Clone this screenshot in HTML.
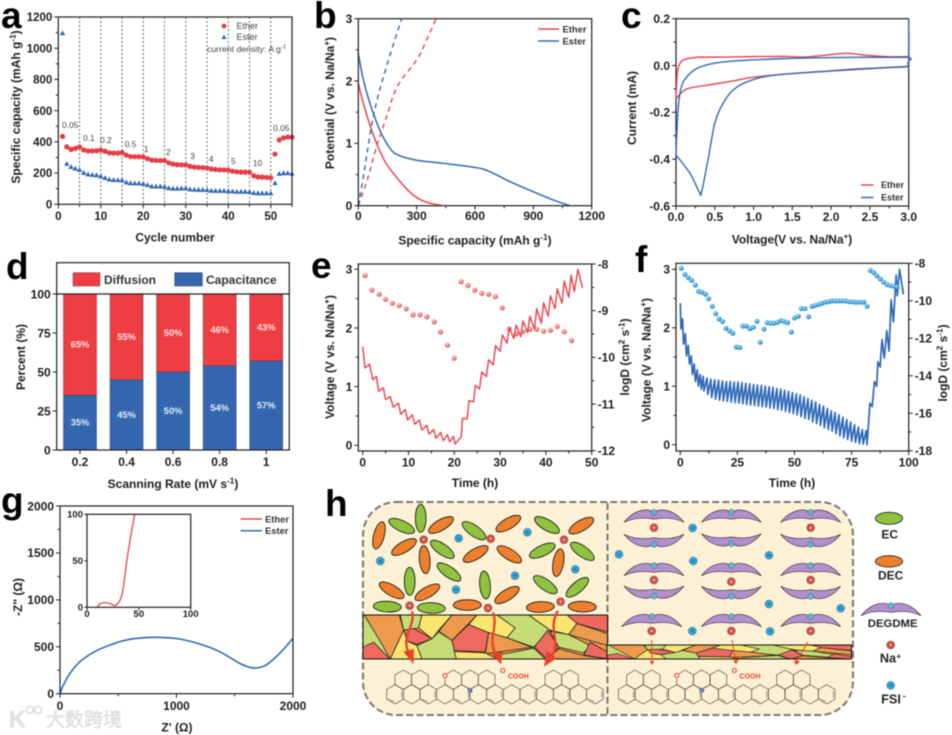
<!DOCTYPE html>
<html lang="en">
<head>
<meta charset="utf-8">
<title>Electrochemical performance figure</title>
<style>
html,body{margin:0;padding:0;background:#fff;}
#figure{display:block;width:952px;height:735px;filter:blur(0.4px);font-family:"Liberation Sans","Noto Sans CJK SC",sans-serif;}
</style>
</head>
<body>
<svg id="figure" xmlns="http://www.w3.org/2000/svg" width="952" height="735" viewBox="0 0 952 735">
  <defs>
    <radialGradient id="pinkBall" cx="40%" cy="35%" r="70%"><stop offset="0" stop-color="#fbd3d3"/><stop offset="0.55" stop-color="#ee7a7c"/><stop offset="1" stop-color="#d9595c"/></radialGradient>
    <radialGradient id="blueBall" cx="40%" cy="35%" r="70%"><stop offset="0" stop-color="#b9e3f7"/><stop offset="0.55" stop-color="#3fa2da"/><stop offset="1" stop-color="#2a7fb8"/></radialGradient>
  </defs>
  <rect width="952" height="735" fill="#fff"/>
  <g id="charts"></g>
  <g id="schematic"></g>
  <g font-weight="bold" font-size="37" fill="#000">
    <text x="1" y="28">a</text>
    <text x="314" y="28">b</text>
    <text x="621" y="28">c</text>
    <text x="6" y="279">d</text>
    <text x="311" y="278">e</text>
    <text x="635" y="272">f</text>
    <text x="1" y="513">g</text>
    <text x="325" y="516">h</text>
  </g>
  <g opacity="0.9">
    <text x="9" y="727" font-size="23" font-weight="bold" fill="#e2e2e2" stroke="#cfcfcf" stroke-width="0.5">K</text>
    <circle cx="30" cy="710" r="3.5" fill="none" stroke="#d8d8d8" stroke-width="1.6"/>
    <circle cx="38" cy="710" r="3.5" fill="none" stroke="#d8d8d8" stroke-width="1.6"/>
    <text x="46" y="726" font-size="19" font-family="'Liberation Sans','Noto Sans CJK SC',sans-serif" fill="#e4e4e4" stroke="#cfcfcf" stroke-width="0.4">大数跨境</text>
  </g>
</svg>

<script>
/* ---------- chart data ---------- */
const aCycles=[1,2,3,4,5,6,7,8,9,10,11,12,13,14,15,16,17,18,19,20,21,22,23,24,25,26,27,28,29,30,31,32,33,34,35,36,37,38,39,40,41,42,43,44,45,46,47,48,49,50,51,52,53,54,55];
const aEther=[435,368,352,358,367,348,342,342,343,347,340,330,328,328,332,315,306,305,305,303,292,283,281,280,280,265,258,254,253,252,243,238,236,235,233,226,223,221,220,219,212,208,206,206,205,183,175,174,172,170,322,412,425,431,430];
const aEster=[1097,260,240,230,222,203,193,190,187,180,170,160,157,156,155,142,136,135,135,133,125,116,115,115,114,105,102,102,103,104,97,95,94,94,93,88,87,87,87,86,84,82,82,82,81,74,72,72,72,71,137,197,200,201,198];
const aDividers=[5,10,15,20,25,30,35,40,45,50];
const aRates=[["0.05",2.8,490],["0.1",7.2,406],["0.2",11.2,393],["0.5",17,368],["1",20.7,336],["2",25.9,316],["3",31.6,291],["4",36,272],["5",41.2,258],["10",46.9,246],["0.05",52.5,470]];
const aXTicks=[0,10,20,30,40,50];
const aXMinor=[5,15,25,35,45,55];
const aYTicks=[0,200,400,600,800,1000,1200];
const aYMinor=[100,300,500,700,900,1100];

const bEtherDischarge=[[0,1.96],[26,1.64],[60,1.29],[94,1.0],[137,0.71],[180,0.52],[231,0.33],[283,0.17],[343,0.064],[429,0]];
const bEsterDischarge=[[0,2.44],[26,2.02],[60,1.64],[111,1.21],[163,0.92],[206,0.81],[300,0.73],[437,0.68],[609,0.61],[677,0.545],[780,0.385],[900,0.225],[1003,0.09],[1089,0]];
const bEtherCharge=[[0,0],[51,0.465],[94,0.95],[146,1.43],[200,1.91],[300,2.34],[343,2.6],[400,3]];
const bEsterCharge=[[0,0],[26,0.465],[77,1.43],[137,2.15],[223,3]];
const bXTicks=[0,300,600,900,1200];
const bXMinor=[150,450,750,1050];
const bYTicks=[0,1,2,3];
const bYMinor=[0.5,1.5,2.5];

const cEther=[[0,-0.14],[0.017,-0.033],[0.05,0.009],[0.116,0.026],[0.27,0.035],[0.57,0.036],[1.0,0.038],[1.43,0.039],[1.64,0.036],[1.86,0.042],[2.2,0.052],[2.42,0.045],[2.72,0.038],[2.97,0.038],[3,0.04],[2.99,0.008],[2.97,-0.005],[2.72,-0.009],[2.29,-0.015],[1.86,-0.026],[1.43,-0.036],[1.0,-0.05],[0.78,-0.063],[0.48,-0.08],[0.14,-0.10],[0,-0.143]];
const cEster=[[0,-0.382],[0.01,-0.29],[0.03,-0.175],[0.07,-0.09],[0.14,-0.048],[0.27,-0.012],[0.48,0.009],[0.74,0.019],[1.43,0.03],[2.29,0.035],[2.97,0.035],[3,0.036],[3,0.2],[3,-0.001],[2.97,-0.004],[2.72,-0.009],[2.07,-0.022],[1.43,-0.036],[1.08,-0.052],[0.78,-0.093],[0.61,-0.16],[0.5,-0.247],[0.42,-0.39],[0.33,-0.54],[0.30,-0.54],[0.18,-0.46],[0,-0.382]];
const cXTicks=[0,0.5,1,1.5,2,2.5,3];
const cXLabels=["0.0","0.5","1.0","1.5","2.0","2.5","3.0"];
const cXMinor=[0.25,0.75,1.25,1.75,2.25,2.75];
const cYTicks=[-0.6,-0.4,-0.2,0,0.2];
const cYLabels=["-0.6","-0.4","-0.2","0.0","0.2"];
const cYMinor=[-0.5,-0.3,-0.1,0.1];

const dRates=["0.2","0.4","0.6","0.8","1"];
const dCapacitance=[35,45,50,54,57];
const dDiffusion=[65,55,50,46,43];
const dYTicks=[0,25,50,75,100];

const eVoltage=[[0,1.68],[0.5,1.32],[1.5,1.38],[2.2,1.12],[3,1.17],[3.5,0.92],[4.5,0.98],[5,0.78],[6,0.83],[6.7,0.65],[7.8,0.72],[8.3,0.53],[9.3,0.61],[9.8,0.43],[10.8,0.52],[11.4,0.36],[12.4,0.43],[12.9,0.26],[14,0.34],[14.5,0.19],[15.5,0.27],[16,0.12],[17,0.22],[17.6,0.08],[18.5,0.18],[19,0.06],[19.8,0.15],[20.2,0.02],[21,0.1],[21.5,0.14],[21.8,0.46],[22.8,0.45],[23.2,0.76],[24.2,0.74],[24.6,1.02],[25.5,0.96],[26,1.25],[27,1.17],[27.5,1.46],[28.5,1.37],[29,1.7],[30,1.6],[30.5,1.88],[31.5,1.74],[32,2.0],[33,1.82],[33.5,2.05],[34.5,1.85],[35,2.12],[36,1.92],[36.5,2.2],[37.5,1.98],[38,2.33],[39,2.08],[39.5,2.43],[40.5,2.2],[41,2.55],[42,2.33],[42.5,2.67],[43.5,2.42],[44,2.8],[45,2.52],[45.5,2.9],[46.2,2.62],[47,3.0],[48,2.68]];
const eLogD=[[0.5,-8.25],[2,-8.56],[3.6,-8.65],[5,-8.76],[6.5,-8.84],[8,-8.89],[9.5,-8.96],[11,-9.09],[12.5,-9.09],[14,-9.13],[15.6,-9.24],[17,-9.46],[18.5,-9.74],[20,-10.02],[21.5,-8.38],[23,-8.46],[24.5,-8.56],[26,-8.63],[27.5,-8.65],[29,-8.7],[30.5,-8.94],[32,-9.39],[33.5,-9.5],[35,-9.45],[36.5,-9.4],[38,-9.4],[39.5,-9.44],[41,-9.42],[42.5,-9.34],[44,-9.45],[45.6,-9.64]];
const eXTicks=[0,10,20,30,40,50];
const eXMinor=[5,15,25,35,45];
const eYTicks=[0,1,2,3];
const eYMinor=[0.5,1.5,2.5];
const eY2Ticks=[-12,-11,-10,-9,-8];
const eY2Minor=[-11.5,-10.5,-9.5,-8.5];

const fVoltage=[[0,2.42],[0.3,1.98],[1,2.15],[1.4,1.72],[2.2,1.9],[2.7,1.52],[3.5,1.7],[4,1.38],[4.8,1.52],[5.3,1.2],[6.1,1.38],[6.6,1.08],[7.4,1.28],[7.9,1.0],[8.7,1.2],[9.2,0.95],[10,1.17],[10.35,0.92],[11.7,1.14],[12.05,0.86],[13.4,1.12],[13.75,0.81],[15.1,1.11],[15.45,0.78],[16.8,1.10],[17.15,0.76],[18.5,1.09],[18.85,0.75],[20.2,1.08],[20.55,0.74],[21.9,1.08],[22.25,0.73],[23.6,1.07],[23.95,0.72],[25.3,1.07],[25.65,0.71],[27,1.06],[27.35,0.70],[28.7,1.05],[29.05,0.69],[30.4,1.04],[30.75,0.68],[32.1,1.03],[32.45,0.67],[33.8,1.02],[34.15,0.66],[35.5,1.01],[35.85,0.65],[37.2,1.0],[37.55,0.64],[38.9,0.99],[39.25,0.63],[40.6,0.98],[40.95,0.62],[42.3,0.96],[42.65,0.60],[44,0.95],[44.35,0.59],[45.7,0.93],[46.05,0.57],[47.4,0.91],[47.75,0.55],[49.1,0.89],[49.45,0.53],[50.8,0.87],[51.15,0.51],[52.5,0.85],[52.85,0.48],[54.2,0.82],[54.55,0.45],[55.9,0.79],[56.25,0.43],[57.6,0.76],[57.95,0.39],[59.3,0.73],[59.65,0.36],[61,0.69],[61.35,0.33],[62.7,0.66],[63.05,0.29],[64.4,0.62],[64.75,0.26],[66.1,0.58],[66.45,0.23],[67.8,0.55],[68.15,0.19],[69.5,0.51],[69.85,0.15],[71.2,0.47],[71.55,0.12],[72.9,0.43],[73.25,0.09],[74.6,0.39],[74.95,0.06],[76.3,0.34],[76.65,0.04],[78,0.3],[78.35,0.02],[79.7,0.26],[80.05,0.01],[81.4,0.24],[81.75,0],[82.2,0.24],[83,0.71],[84,0.65],[85,1.08],[86,1.0],[86.5,1.42],[87.5,1.33],[88.3,1.8],[89.3,1.48],[90.4,1.95],[91.4,1.6],[92.3,2.48],[93.3,2.1],[94.5,2.9],[95,2.55],[96,3.0],[97.7,2.57]];
const fLogD=[[0.4,-8.27],[2,-8.6],[3.5,-8.77],[5,-8.91],[6.6,-9.17],[8,-9.5],[9.5,-9.55],[11,-9.65],[12.4,-9.89],[14,-10.3],[15.5,-10.69],[17,-10.97],[18.5,-11.11],[20,-11.47],[21.6,-11.61],[23,-11.74],[24.5,-12.47],[26,-12.5],[27.4,-11.35],[29,-11.35],[30.5,-11.49],[32,-11.42],[33.6,-11.1],[35,-12.22],[36.6,-11.52],[38,-11.17],[39.6,-11.2],[41,-11.2],[42.6,-11.15],[44,-11.06],[45.5,-11.11],[47,-11.17],[48.6,-11.67],[50,-10.92],[51.7,-10.83],[53,-10.42],[54.6,-10.42],[56.2,-10.85],[57.7,-10.3],[59,-10.26],[60.6,-10.19],[62,-10.14],[63.5,-10.08],[65,-10.05],[66.4,-10.01],[68,-10.01],[69.3,-10.01],[70.8,-10.01],[72.3,-10.01],[73.7,-10.05],[75.2,-10.06],[76.6,-10.08],[78,-10.08],[79.6,-10.08],[80.4,-10.08],[81.8,-10.3],[83.2,-8.39],[84.7,-8.5],[86.1,-8.68],[87.6,-8.84],[89,-9.01],[90.5,-9.14],[92,-9.19],[93.4,-9.23],[94.9,-9.26]];
const fXTicks=[0,25,50,75,100];
const fXMinor=[12.5,37.5,62.5,87.5];
const fYTicks=[0,1,2,3];
const fYMinor=[0.5,1.5,2.5];
const fY2Ticks=[-18,-16,-14,-12,-10,-8];
const fY2Minor=[-17,-15,-13,-11,-9];

const gEster=[[0,0],[29,92],[86,217],[171,341],[286,440],[400,505],[543,565],[686,593],[857,600],[1029,583],[1200,529],[1371,448],[1543,323],[1629,281],[1686,274],[1771,306],[1886,430],[2000,590]];
const gEther=[[10,0],[12.5,3.6],[17.4,5],[22,4],[27,2],[31,6],[34,15],[36,29],[38,47],[41.5,72],[46,100]];
const gXTicks=[0,1000,2000];
const gXMinor=[500,1500];
const gYTicks=[0,500,1000,1500,2000];
const gYMinor=[250,750,1250,1750];
const gInsetXTicks=[0,50,100];
const gInsetYTicks=[0,50,100];

/* ---------- helpers ---------- */
const NS='http://www.w3.org/2000/svg';
const chartRoot=document.getElementById('charts');
const INK='#1e1e1e',RED='#e8434b',BLUE='#2f69b3';
function mk(tag,attrs,parent){
  const e=document.createElementNS(NS,tag);
  for(const k in attrs)e.setAttribute(k,attrs[k]);
  (parent||chartRoot).appendChild(e);
  return e;
}
function scale(d0,d1,r0,r1){return v=>r0+(v-d0)*(r1-r0)/(d1-d0);}
function label(str,x,y,size,name,opt){
  opt=opt||{};
  const t=mk('text',{x:x,y:y,'font-size':size,'font-weight':opt.weight||'bold','fill':opt.fill||INK,'text-anchor':opt.anchor||'middle'},opt.parent);
  
  
  if(opt.rotate)t.setAttribute('transform','rotate('+opt.rotate+' '+x+' '+y+')');
  const parts=str.split(/(\^\{[^}]*\})/);
  let lifted=false;
  parts.forEach(p=>{
    if(!p)return;
    const ts=mk('tspan',{},t);
    if(p[0]==='^'){
      ts.textContent=p.slice(2,-1);
      ts.setAttribute('font-size',size*0.68);
      ts.setAttribute('dy',-size*0.38);
      lifted=true;
    }else{
      ts.textContent=p;
      if(lifted){ts.setAttribute('dy',size*0.38);lifted=false;}
    }
  });
  return t;
}
function tick(x1,y1,x2,y2,name,parent){
  const l=mk('line',{x1:x1,y1:y1,x2:x2,y2:y2,stroke:INK,'stroke-width':1},parent);
  
  
}
function frame(name,x0,y0,x1,y1,parent){
  const r=mk('rect',{x:x0,y:y0,width:x1-x0,height:y1-y0,fill:'none',stroke:INK,'stroke-width':1.2},parent);
  
  
}
function xAxis(name,sx,yBase,ticks,minor,labels,size,labelY){
  ticks.forEach((v,i)=>{
    tick(sx(v),yBase,sx(v),yBase+4,name+'-x-tick');
    label(labels?labels[i]:String(v),sx(v),labelY,size,name+'-x-tick-label');
  });
  (minor||[]).forEach(v=>tick(sx(v),yBase,sx(v),yBase+2.5,name+'-x-minor-tick'));
}
function yAxis(name,sy,xBase,ticks,minor,labels,size,side){
  const dir=side==='right'?1:-1;
  ticks.forEach((v,i)=>{
    tick(xBase,sy(v),xBase+dir*4,sy(v),name+'-y-tick');
    label(labels?labels[i]:String(v),xBase+dir*6,sy(v)+size*0.36,size,name+'-y-tick-label',{anchor:side==='right'?'start':'end'});
  });
  (minor||[]).forEach(v=>tick(xBase,sy(v),xBase+dir*2.5,sy(v),name+'-y-minor-tick'));
}
function straightPath(pts,sx,sy){
  return pts.map((p,i)=>(i?'L':'M')+sx(p[0]).toFixed(2)+' '+sy(p[1]).toFixed(2)).join(' ');
}
function smoothPath(pts,sx,sy){
  const q=pts.map(p=>[sx(p[0]),sy(p[1])]);
  let d='M'+q[0][0].toFixed(2)+' '+q[0][1].toFixed(2);
  for(let i=0;i<q.length-1;i++){
    const p0=q[Math.max(i-1,0)],p1=q[i],p2=q[i+1],p3=q[Math.min(i+2,q.length-1)];
    const c1x=p1[0]+(p2[0]-p0[0])/6,c1y=p1[1]+(p2[1]-p0[1])/6;
    const c2x=p2[0]-(p3[0]-p1[0])/6,c2y=p2[1]-(p3[1]-p1[1])/6;
    d+=' C'+c1x.toFixed(2)+' '+c1y.toFixed(2)+' '+c2x.toFixed(2)+' '+c2y.toFixed(2)+' '+p2[0].toFixed(2)+' '+p2[1].toFixed(2);
  }
  return d;
}
function curve(d,color,width,name,dash,parent){
  const p=mk('path',{d:d,fill:'none',stroke:color,'stroke-width':width,'stroke-linejoin':'round'},parent);
  if(dash)p.setAttribute('stroke-dasharray',dash);
  
  
}
function legendLine(x1,x2,y,color,text,tx,size,name){
  const l=mk('line',{x1:x1,x2:x2,y1:y,y2:y,stroke:color,'stroke-width':1.5});
  
  
  label(text,tx,y+size*0.36,size,name+'-legend-label',{anchor:'start',fill:'#333'});
}

/* ---------- panel a ---------- */
(function(){
  const sx=scale(0,55,58.3,292),sy=scale(0,1200,204.3,17);
  aDividers.forEach(v=>{
    const l=mk('line',{x1:sx(v),x2:sx(v),y1:17,y2:204,stroke:'#444','stroke-width':0.8,'stroke-dasharray':'2 2'});
    
    
  });
  aRates.forEach(r=>{
    label(r[0],sx(r[1]),sy(r[2]),8.4,'current-density-label',{weight:'normal',fill:'#444'});
  });
  aCycles.forEach((c,i)=>{
    const px=sx(c),py=sy(aEster[i]);
    const tri=mk('polygon',{points:(px-2.7)+','+(py+2.2)+' '+(px+2.7)+','+(py+2.2)+' '+px+','+(py-2.7),fill:BLUE});
    
    
  });
  aCycles.forEach((c,i)=>{
    const dot=mk('circle',{cx:sx(c),cy:sy(aEther[i]),r:2.6,fill:'#e63c44'});
    
    
  });
  frame('capacity-chart',58.3,17,292,204.3);
  xAxis('capacity-chart',sx,204.3,aXTicks,aXMinor,null,11.5,220);
  yAxis('capacity-chart',sy,58.3,aYTicks,aYMinor,null,11.5,'left');
  label('Cycle number',175,241.5,12,'capacity-x-axis-title');
  label('Specific capacity (mAh g^{-1})',20,107,12,'capacity-y-axis-title',{rotate:-90});
  const ld=mk('circle',{cx:224,cy:26,r:2.4,fill:'#e63c44'});
  
  
  const lt=mk('polygon',{points:'221.5,39 226.5,39 224,34.4',fill:BLUE});
  
  
  label('Ether',236.5,29,9,'ether-legend-label',{anchor:'start',weight:'normal',fill:'#444'});
  label('Ester',236.5,40,9,'ester-legend-label',{anchor:'start',weight:'normal',fill:'#444'});
  label('current density: A g^{-1}',207,52,8.7,'current-density-note',{anchor:'start',weight:'normal',fill:'#444'});
})();

/* ---------- panel b ---------- */
(function(){
  const sx=scale(0,1200,358.3,591.7),sy=scale(0,3,205.7,18.7);
  curve(smoothPath(bEtherDischarge,sx,sy),RED,1.5,'ether-discharge-curve');
  curve(smoothPath(bEsterDischarge,sx,sy),BLUE,1.5,'ester-discharge-curve');
  curve(smoothPath(bEtherCharge,sx,sy),RED,1.4,'ether-charge-curve','5 4');
  curve(smoothPath(bEsterCharge,sx,sy),BLUE,1.4,'ester-charge-curve','5 4');
  frame('potential-chart',358.3,18.7,591.7,205.7);
  xAxis('potential-chart',sx,205.7,bXTicks,bXMinor,null,12,220);
  yAxis('potential-chart',sy,358.3,bYTicks,bYMinor,null,12,'left');
  label('Specific capacity (mAh g^{-1})',475,244.5,12,'potential-x-axis-title');
  label('Potential (V vs. Na/Na^{+})',334,103,12,'potential-y-axis-title',{rotate:-90});
  legendLine(538,559,29,RED,'Ether',562.5,9.4,'potential-ether');
  legendLine(538,559,41,BLUE,'Ester',562.5,9.4,'potential-ester');
})();

/* ---------- panel c ---------- */
(function(){
  const sx=scale(0,3,676,908.7),sy=scale(-0.6,0.2,206,18.7);
  frame('cv-chart',676,18.7,908.7,206);
  curve(smoothPath(cEther,sx,sy),RED,1.4,'ether-cv-curve');
  curve(smoothPath(cEster,sx,sy),BLUE,1.4,'ester-cv-curve');
  xAxis('cv-chart',sx,206,cXTicks,cXMinor,cXLabels,12,221);
  yAxis('cv-chart',sy,676,cYTicks,cYMinor,cYLabels,12,'left');
  label('Voltage(V vs. Na/Na^{+})',792,243.5,12,'cv-x-axis-title');
  label('Current (mA)',636,108,12,'cv-y-axis-title',{rotate:-90});
  legendLine(861,873.5,185,RED,'Ether',881,9,'cv-ether');
  legendLine(861,873.5,197.5,BLUE,'Ester',881,9,'cv-ester');
})();

/* ---------- panel d ---------- */
(function(){
  const sy=scale(0,100,450,294);
  const sx=i=>80+i*46.55;
  const w=33;
  dRates.forEach((r,i)=>{
    const cx=sx(i);
    const top=mk('rect',{x:cx-w/2,y:sy(100),width:w,height:sy(dCapacitance[i])-sy(100),fill:'#ef3e42',stroke:'#6a2a36','stroke-width':0.5});
    
    
    const bot=mk('rect',{x:cx-w/2,y:sy(dCapacitance[i]),width:w,height:sy(0)-sy(dCapacitance[i]),fill:'#3566b0',stroke:'#2b3f66','stroke-width':0.5});
    
    
    label(dDiffusion[i]+'%',cx,sy(dCapacitance[i]+dDiffusion[i]/2)+3,9.3,'diffusion-percent-label',{fill:'#fbe3e3'});
    label(dCapacitance[i]+'%',cx,sy(dCapacitance[i]/2)+3,9.3,'capacitance-percent-label',{fill:'#e3ecf8'});
    tick(cx,450,cx,454,'percent-chart-x-tick');
    label(r,cx,466,12,'percent-chart-x-tick-label');
  });
  frame('percent-chart',56.7,262.7,289.3,450);
  const ax=mk('line',{x1:56.7,x2:289.3,y1:294,y2:294,stroke:INK,'stroke-width':1.2});
  
  
  yAxis('percent-chart',sy,56.7,dYTicks,null,null,12,'left');
  label('Scanning Rate (mV s^{-1})',173,488,12,'percent-x-axis-title');
  label('Percent (%)',25,357,12,'percent-y-axis-title',{rotate:-90});
  const l1=mk('rect',{x:73,y:272.7,width:27,height:13.3,fill:'#ef3e42',stroke:'#8a4a50','stroke-width':0.6});
  
  
  label('Diffusion',104,284,12,'diffusion-legend-label',{anchor:'start',fill:'#333'});
  const l2=mk('rect',{x:174.7,y:272.7,width:27.6,height:13.3,fill:'#3566b0',stroke:'#3a4c6e','stroke-width':0.6});
  
  
  label('Capacitance',206,284,12,'capacitance-legend-label',{anchor:'start',fill:'#333'});
})();

/* ---------- panel e ---------- */
(function(){
  const sx=scale(0,50,362.7,591.7),sy=scale(0,3,445.3,269.3),sy2=scale(-12,-8,450.7,264);
  eLogD.forEach(p=>{
    const c=mk('circle',{cx:sx(p[0]),cy:sy2(p[1]),r:2.6,fill:'url(#pinkBall)'});
    
    
  });
  curve(straightPath(eVoltage,sx,sy),'#e8404a',1.4,'ether-gitt-voltage-curve');
  frame('ether-gitt-chart',358.3,264,591.7,451);
  xAxis('ether-gitt-chart',sx,451,eXTicks,eXMinor,null,12,466.5);
  yAxis('ether-gitt-chart',sy,358.3,eYTicks,eYMinor,null,12,'left');
  yAxis('ether-gitt-logd',sy2,591.7,eY2Ticks,eY2Minor,null,12,'right');
  label('Time (h)',475,487,12,'ether-gitt-x-axis-title');
  label('Voltage (V vs. Na/Na^{+})',334,357,12,'ether-gitt-y-axis-title',{rotate:-90});
  label('logD (cm^{2} s^{-1})',629,357,12,'ether-gitt-right-axis-title',{rotate:-90});
})();

/* ---------- panel f ---------- */
(function(){
  const sx=scale(0,100,680.3,908.7),sy=scale(0,3,444.7,269.3),sy2=scale(-18,-8,450.7,263.3);
  curve(straightPath(fVoltage,sx,sy),'#2f69b8',1.7,'ester-gitt-voltage-curve');
  fLogD.forEach(p=>{
    const c=mk('circle',{cx:sx(p[0]),cy:sy2(p[1]),r:2.5,fill:'url(#blueBall)'});
    
    
  });
  frame('ester-gitt-chart',676,263.3,908.7,451);
  xAxis('ester-gitt-chart',sx,451,fXTicks,fXMinor,null,12,466.5);
  yAxis('ester-gitt-chart',sy,676,fYTicks,fYMinor,null,12,'left');
  yAxis('ester-gitt-logd',sy2,908.7,fY2Ticks,fY2Minor,null,12,'right');
  label('Time (h)',792,487,12,'ester-gitt-x-axis-title');
  label('Voltage (V vs. Na/Na^{+})',650.5,360,12,'ester-gitt-y-axis-title',{rotate:-90});
  label('logD (cm^{2} s^{-1})',947,363,12,'ester-gitt-right-axis-title',{rotate:-90});
})();

/* ---------- panel g ---------- */
(function(){
  const sx=scale(0,2000,60,293),sy=scale(0,2000,693.7,506);
  curve(smoothPath(gEster,sx,sy),BLUE,1.6,'ester-nyquist-curve');
  frame('nyquist-chart',60,506,293,693.7);
  xAxis('nyquist-chart',sx,693.7,gXTicks,gXMinor,null,12,710);
  yAxis('nyquist-chart',sy,60,gYTicks,gYMinor,null,12,'left');
  label("Z' (Ω)",177,731.5,12,'nyquist-x-axis-title');
  label("-Z'' (Ω)",22,597,12,'nyquist-y-axis-title',{rotate:-90});
  legendLine(240.7,262,519,RED,'Ether',265,9.4,'nyquist-ether');
  legendLine(240.7,262,530.7,BLUE,'Ester',265,9.4,'nyquist-ester');
  const ix=scale(0,100,87,190.7),iy=scale(0,100,607.3,514.3);
  curve(smoothPath(gEther,ix,iy),RED,1.3,'inset-ether-nyquist-curve');
  frame('nyquist-inset',87,514.3,190.7,607.3);
  gInsetXTicks.forEach(v=>{
    tick(ix(v),607.3,ix(v),610,'nyquist-inset-x-tick');
    label(String(v),ix(v),617,9.5,'nyquist-inset-x-tick-label');
  });
  gInsetYTicks.forEach(v=>{
    tick(87,iy(v),84.3,iy(v),'nyquist-inset-y-tick');
    label(String(v),83,iy(v)+3.4,9.5,'nyquist-inset-y-tick-label',{anchor:'end'});
  });
})();
</script>

<script>
/* ---------- schematic (panel h): not chart data, hand-placed drawing ---------- */
const schemaRoot=document.getElementById('schematic');
const S_NS='http://www.w3.org/2000/svg';
function sEl(tag,attrs,parent){
  const e=document.createElementNS(S_NS,tag);
  for(const k in attrs)e.setAttribute(k,attrs[k]);
  (parent||schemaRoot).appendChild(e);
  return e;
}
const cell=sEl('rect',{x:363,y:502,width:490,height:213,rx:33,fill:'#fdf1d5',stroke:'#777','stroke-width':2,'stroke-dasharray':'7 3.2'});


const divider=sEl('line',{x1:607.5,x2:607.5,y1:503,y2:714,stroke:'#777','stroke-width':2,'stroke-dasharray':'7 3.2'});



const OR='#ee7f2d',GR='#8fc23f',RD='#ee6a5f',OG='#ee9a4d',YL='#fae66f',LG='#c6dc74';
const seiPolys=[
 [LG,[[38,360],[148,360],[120,490],[38,490]]],
 [OG,[[42,360],[147,360],[160,405],[120,490],[85,430]]],
 [RD,[[38,455],[70,440],[118,490],[38,490]]],
 [LG,[[150,360],[215,360],[205,398],[185,402],[160,405]]],
 [RD,[[160,405],[190,400],[245,430],[200,447],[170,437]]],
 [YL,[[170,437],[200,450],[215,490],[120,490],[160,405]]],
 [YL,[[215,360],[305,360],[265,405],[245,430],[205,398]]],
 [LG,[[200,450],[245,430],[265,410],[305,435],[318,490],[215,490]]],
 [OG,[[305,360],[380,360],[355,385],[305,435],[265,408]]],
 [RD,[[355,388],[415,412],[405,470],[312,465],[305,435]]],
 [YL,[[380,360],[440,360],[495,398],[470,427],[415,412],[355,388]]],
 [OG,[[415,412],[470,427],[545,455],[405,475]]],
 [LG,[[440,360],[535,360],[600,405],[550,455],[470,427],[495,398]]],
 [YL,[[312,468],[405,472],[440,490],[318,490]]],
 [LG,[[445,478],[550,458],[585,490],[440,490]]],
 [YL,[[535,360],[650,360],[680,385],[655,418],[600,405]]],
 [RD,[[650,360],[772,360],[772,410],[680,385]]],
 [OG,[[680,385],[772,415],[772,450],[655,418]]],
 [LG,[[600,408],[655,418],[720,450],[700,472],[625,455]]],
 [RD,[[592,405],[625,455],[590,490],[552,455]]],
 [RD,[[720,440],[772,470],[772,490],[700,478]]],
 [OG,[[590,490],[625,460],[700,480],[772,490]]]
];
function drawLayer(name,y0,y1,sw){
  const fx=x=>(x-38)/3,fy=y=>y0+(y-360)*(y1-y0)/130;
  [363,607].forEach(ox=>{
    if(name==='thick'&&ox!==363)return;
    if(name==='thin'&&ox!==607)return;
    const base=sEl('rect',{x:ox,y:y0,width:244.5,height:y1-y0,fill:OG});
    
    
    seiPolys.forEach(p=>{
      const poly=sEl('polygon',{points:p[1].map(q=>(ox+fx(q[0])).toFixed(1)+','+fy(q[1]).toFixed(1)).join(' '),fill:p[0],stroke:'#222','stroke-width':sw,'stroke-linejoin':'round'});
      
      
    });
    const edge=sEl('rect',{x:ox,y:y0,width:244.5,height:y1-y0,fill:'none',stroke:'#111','stroke-width':1});
    
    
  });
}
drawLayer('thick',615,659,0.8);
drawLayer('thin',645,659,0.6);

const gLeft=sEl('g',{transform:'translate(350 495) scale(0.33333)'});


const gRight=sEl('g',{transform:'translate(600 495) scale(0.33333)'});



const solvents=[
 [87,121,-75,OR],[155,93,25,GR],[212,70,90,GR],[273,90,-30,OR],[162,156,-30,OR],[277,163,35,GR],[224,194,85,OR],[297,231,35,GR],[179,259,90,GR],[125,286,30,OR],[232,292,-30,OR],[112,335,3,GR],[244,339,2,GR],
 [372,107,35,GR],[475,86,-30,OR],[377,177,-30,OR],[478,178,32,OR],[405,270,85,GR],[471,300,-32,OR],[352,330,0,OR],
 [591,90,30,GR],[694,92,-30,OR],[577,167,-25,GR],[697,169,35,GR],[625,203,-80,OR],[586,269,35,GR],[682,277,-40,GR],[571,336,-3,OR],[697,335,2,OR]
];
solvents.forEach(s=>{
  const e=sEl('ellipse',{cx:s[0],cy:s[1],rx:42,ry:16,fill:s[3],stroke:'#111','stroke-width':2.5,transform:'rotate('+s[2]+' '+s[0]+' '+s[1]+')'},gLeft);
  
  
});
function naIon(x,y,p,r){
  r=r||12;
  const c=sEl('circle',{cx:x,cy:y,r:r,fill:'#d9483b',stroke:'#7a7a7a','stroke-width':2},p);
  
  
  const h=sEl('path',{d:'M'+(x-5)+' '+y+'H'+(x+5)+'M'+x+' '+(y-5)+'V'+(y+5),stroke:'#f6d9c8','stroke-width':2,fill:'none'},p);
  
  
}
function fsiIon(x,y,p,r){
  r=r||12;
  const c=sEl('circle',{cx:x,cy:y,r:r,fill:'#2aa3d6',stroke:'#6f8c9c','stroke-width':2},p);
  
  
  const h=sEl('path',{d:'M'+(x-4)+' '+y+'H'+(x+4),stroke:'#18465f','stroke-width':2,fill:'none'},p);
  
  
}
[[221,134],[422,131],[642,134],[179,332],[414,339],[632,320]].forEach(q=>naIon(q[0],q[1],gLeft));
[[91,198],[326,130],[532,112],[318,284],[495,242],[676,223]].forEach(q=>fsiIon(q[0],q[1],gLeft));

const BOW='M-90 30C-70 5-45 -8-20 -7C-10 -6-5 -2 0 0C5 -2 10 -6 20 -7C45 -8 70 5 90 30C60 15 30 15 0 20C-30 15-60 15-90 30Z';
function bow(x,y,flip,p){
  const b=sEl('path',{d:BOW,transform:'translate('+x+' '+y+') scale(1 '+(flip?-1:1)+')',fill:'#b38fd0',stroke:'#333','stroke-width':2},p);
  
  
  const c=sEl('circle',{cx:x,cy:y,r:9,fill:'#5fb4d8',stroke:'#555','stroke-width':1.5},p);
  
  
}
[[162,52],[394,52],[632,52],[162,212],[394,212],[632,212],[155,365],[394,365],[632,365]].forEach(q=>bow(q[0],q[1],false,gRight));
[[162,148],[394,146],[632,148],[162,303],[394,304],[632,304]].forEach(q=>bow(q[0],q[1],true,gRight));
[[162,98],[632,98],[162,255],[394,260],[632,255],[155,408],[394,408],[632,408]].forEach(q=>naIon(q[0],q[1],gRight));
[[278,99],[57,178],[280,198],[507,181],[507,327],[277,408],[510,409],[722,340]].forEach(q=>fsiIon(q[0],q[1],gRight));

function arrow(p,d,head,w){
  const a=sEl('path',{d:d,fill:'none',stroke:'#e8412a','stroke-width':w,'stroke-linecap':'round'},p);
  
  
  const h=sEl('polygon',{points:head,fill:'#e8412a'},p);
  
  
}
arrow(gLeft,'M187 352C195 400 150 420 178 478','160,470 190,507 192,462',7);
arrow(gLeft,'M430 355C445 400 410 430 440 485','425,478 453,508 458,470',7);
arrow(gLeft,'M622 350C590 410 640 440 600 490','582,515 620,490 590,468',7);
arrow(gRight,'M155 436L156 500','149,498 156,510 163,498',3);
arrow(gRight,'M396 436L407 498','400,496 408,508 415,494',3);
arrow(gRight,'M622 442L590 500','582,495 587,510 600,500',3);

function molecule(dx,name){
  const g=sEl('g',{transform:'translate('+(350+dx)+' 495) scale(0.33333)'});
  
  
  const s=29,hw=25;
  function hex(cx,cy,inner){
    const d='M'+cx+' '+(cy-s)+'L'+(cx+hw)+' '+(cy-s/2)+'L'+(cx+hw)+' '+(cy+s/2)+'L'+cx+' '+(cy+s)+'L'+(cx-hw)+' '+(cy+s/2)+'L'+(cx-hw)+' '+(cy-s/2)+'Z';
    const r=sEl('path',{d:d,fill:'none',stroke:'#3a3a3a','stroke-width':1.8,'stroke-linejoin':'round'},g);
    
    
    if(inner){
      const d2='M'+(cx+hw-5)+' '+(cy-s/2+5)+'L'+(cx+hw-5)+' '+(cy+s/2-5)+'M'+(cx-hw+6)+' '+(cy+s/2-1)+'L'+(cx-2)+' '+(cy+s-6);
      const b=sEl('path',{d:d2,fill:'none',stroke:'#3a3a3a','stroke-width':1.5},g);
      
      
    }
  }
  [160,210,310,360,410,610,660].forEach(x=>hex(x,554,false));
  for(let i=0;i<13;i++)hex(135+50*i,598,i%2===0);
  const lab=(t,x,y,c,sz)=>{
    const e=sEl('text',{x:x,y:y,'font-size':sz,'font-weight':'bold',fill:c,'text-anchor':'middle'},g);
    e.textContent=t;
    
    
  };
  [[285,541],[458,526],[505,543]].forEach((q,i)=>{
    const bg=sEl('ellipse',{cx:q[0],cy:q[1],rx:i===2?34:9,ry:9,fill:'#fdf1d5'},g);
    
    
  });
  lab('O',285,549,'#e8412a',22);
  lab('O',458,534,'#e8412a',22);
  lab('N',360,593,'#3a4fb0',22);
  lab('COOH',505,550,'#e8412a',21);
}
molecule(0,'carbon-structure-ether');
molecule(231.7,'carbon-structure-ester');

const lgEc=sEl('ellipse',{cx:867,cy:70,rx:41,ry:18,fill:GR,stroke:'#222','stroke-width':2.5},gRight);


const lgDec=sEl('ellipse',{cx:867,cy:199,rx:41,ry:17,fill:OR,stroke:'#222','stroke-width':2.5},gRight);


bow(873,332,false,gRight);
naIon(872,450,gRight);
fsiIon(872,571,gRight);
[['EC',869,131,36],['DEC',872,254,36],['DEGDME',878,396,34],['Na',864,503,38],['FSI',873,625,38]].forEach(t=>{
  const e=sEl('text',{x:t[1],y:t[2],'font-size':t[3],'font-weight':'bold',fill:'#222','text-anchor':'middle'},gRight);
  e.textContent=t[0];
  
  
});
const supNa=sEl('text',{x:889,y:492,'font-size':24,'font-weight':'bold',fill:'#222'},gRight);
supNa.textContent='+';


const supF=sEl('text',{x:908,y:612,'font-size':28,'font-weight':'bold',fill:'#222'},gRight);
supF.textContent='-';


</script>
</body>
</html>
